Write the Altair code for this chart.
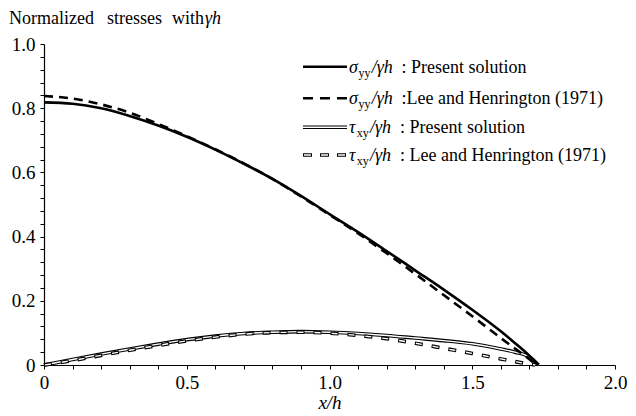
import altair as alt
import pandas as pd

# Normalised vertical stress sigma_yy / (gamma h) along the base
sig_x_present = [0.0, 0.1, 0.2, 0.3, 0.4, 0.5, 0.6, 0.7, 0.8, 0.9, 1.0, 1.1, 1.2,
                 1.3, 1.4, 1.5, 1.6, 1.65, 1.7, 1.732]
sig_y_present = [0.818, 0.814, 0.800, 0.776, 0.746, 0.711, 0.671, 0.627, 0.580, 0.527,
                 0.470, 0.414, 0.355, 0.295, 0.235, 0.172, 0.105, 0.068, 0.029, 0.0]

sig_x_lee = [0.0, 0.1, 0.2, 0.3, 0.4, 0.5, 0.6, 0.7, 0.8, 0.9, 1.0, 1.1, 1.2,
             1.3, 1.4, 1.5, 1.6, 1.65, 1.7, 1.725]
sig_y_lee = [0.838, 0.830, 0.812, 0.786, 0.751, 0.713, 0.672, 0.628, 0.580, 0.525,
             0.468, 0.410, 0.348, 0.284, 0.218, 0.152, 0.084, 0.051, 0.018, 0.0]

# Normalised shear stress tau_xy / (gamma h)
tau_x_present = [0.0, 0.1, 0.2, 0.3, 0.4, 0.5, 0.6, 0.7, 0.8, 0.9, 1.0, 1.1, 1.2,
                 1.3, 1.4, 1.5, 1.6, 1.65, 1.7, 1.732]
tau_y_present = [0.0, 0.017, 0.034, 0.050, 0.065, 0.079, 0.090, 0.098, 0.102, 0.104,
                 0.102, 0.098, 0.092, 0.084, 0.076, 0.066, 0.050, 0.040, 0.025, 0.0]

tau_x_lee = [0.0, 0.1, 0.2, 0.3, 0.4, 0.5, 0.6, 0.7, 0.8, 0.9, 1.0, 1.1, 1.2,
             1.3, 1.4, 1.5, 1.6, 1.66, 1.72]
tau_y_lee = [0.0, 0.014, 0.030, 0.046, 0.061, 0.075, 0.087, 0.096, 0.101, 0.102,
             0.099, 0.092, 0.082, 0.068, 0.052, 0.036, 0.019, 0.009, 0.0]

x_ticks = [round(i * 0.1, 2) for i in range(21)]
y_ticks = [round(i * 0.04, 2) for i in range(26)]

FONT = "Liberation Serif"
W, H = 571, 321


def series(xs, ys, name):
    return pd.DataFrame({"x": xs, "y": ys, "s": name})


df = pd.concat([
    series(sig_x_present, sig_y_present, "sig_p"),
    series(sig_x_lee, sig_y_lee, "sig_l"),
    series(tau_x_present, tau_y_present, "tau_p"),
    series(tau_x_lee, tau_y_lee, "tau_l"),
], ignore_index=True)

xscale = alt.Scale(domain=[0, 2], nice=False, zero=False)
yscale = alt.Scale(domain=[0, 1], nice=False, zero=False)

x_enc = alt.X(
    "x:Q", scale=xscale, title="x/h",
    axis=alt.Axis(
        values=x_ticks, grid=False, domainColor="black", tickColor="black",
        tickSize=4, domainWidth=1.2, tickWidth=1, labelFont=FONT, labelFontSize=19,
        labelColor="black", labelPadding=4, labelOverlap=False, labelFlush=False,
        labelExpr="datum.value == 0 ? '0' : (round(datum.value * 10) % 5 == 0 ? format(datum.value, '.1f') : '')",
        titleFont=FONT, titleFontSize=19, titleFontStyle="italic", titleFontWeight="normal",
        titleColor="black", titlePadding=1,
    ),
)
y_enc = alt.Y(
    "y:Q", scale=yscale, title=None,
    axis=alt.Axis(
        values=y_ticks, grid=False, domainColor="black", tickColor="black",
        tickSize=4, domainWidth=1.2, tickWidth=1, labelFont=FONT, labelFontSize=19,
        labelColor="black", labelPadding=5, labelOverlap=False, labelFlush=False,
        labelExpr="datum.value == 0 ? '0' : (round(datum.value * 100) % 20 == 0 ? format(datum.value, '.1f') : '')",
    ),
)

base = alt.Chart(df).encode(x=x_enc, y=y_enc)


def curve(name, color, width, dash=None, offset=None):
    kw = dict(color=color, strokeWidth=width, interpolate="monotone", strokeCap="butt")
    if dash:
        kw["strokeDash"] = dash
    if offset is not None:
        kw["strokeDashOffset"] = offset
    return base.transform_filter(alt.datum.s == name).mark_line(**kw)


layers = [
    curve("tau_p", "black", 3.6),
    curve("tau_p", "white", 1.4),
    curve("tau_l", "black", 3.6, [8, 9]),
    curve("tau_l", "white", 1.4, [6, 11], 16),
    curve("sig_p", "black", 2.6),
    curve("sig_l", "black", 2.6, [9, 6]),
]


def label(txt, px, py, size=18, style="normal"):
    return alt.Chart(pd.DataFrame({"t": [txt]})).mark_text(
        font=FONT, fontSize=size, fontStyle=style, align="left",
        baseline="alphabetic", color="black",
    ).encode(x=alt.value(px), y=alt.value(py), text="t:N")


# Chart heading, set word by word in plot-relative pixels
for txt, px, style in [("Normalized", -35, "normal"), ("stresses", 63, "normal"),
                       ("with", 128, "normal"), ("γh", 161, "italic")]:
    layers.append(label(txt, px, -20, 18, style))

# Legend
legend_rows = [
    ("σ", "yy", ": Present solution", 22.7, "solid"),
    ("σ", "yy", ":Lee and Henrington  (1971)", 54.3, "dashed"),
    ("τ", "xy", ": Present solution", 83.3, "double"),
    ("τ", "xy", ": Lee and Henrington  (1971)", 111.0, "double_dashed"),
]
lx0, lx1 = 259, 303


def sample(yv, color, width, dash=None, offset=None):
    kw = dict(color=color, strokeWidth=width, strokeCap="butt")
    if dash:
        kw["strokeDash"] = dash
    if offset is not None:
        kw["strokeDashOffset"] = offset
    return alt.Chart(pd.DataFrame({"a": [0]})).mark_rule(**kw).encode(
        x=alt.value(lx0), x2=alt.value(lx1), y=alt.value(yv)
    )


for sym, sub, rest, yv, style in legend_rows:
    if style == "solid":
        layers.append(sample(yv, "black", 2.6))
    elif style == "dashed":
        layers.append(sample(yv, "black", 2.6, [10, 7]))
    elif style == "double":
        layers.append(sample(yv, "black", 3.6))
        layers.append(sample(yv, "white", 1.4))
    else:
        layers.append(sample(yv, "black", 3.6, [9, 8]))
        layers.append(sample(yv, "white", 1.4, [7, 10], 16))

    sub_x = 314.5 if sym == "σ" else 312.7
    frac_x = 327.7 if sym == "σ" else 326.0
    rest_x = 357.5 if sym == "σ" else 356.0
    layers.append(label(sym, 305, yv + 6, 18, "italic"))
    layers.append(label(sub, sub_x, yv + 10, 12, "normal"))
    layers.append(label("/γh", frac_x, yv + 6, 18, "italic"))
    layers.append(label(rest, rest_x, yv + 6, 18, "normal"))

chart = alt.layer(*layers).properties(
    width=W, height=H,
    autosize=alt.AutoSizeParams(type="none"),
    padding={"left": 44, "top": 44, "right": 20, "bottom": 50},
    background="white",
).configure(font=FONT).configure_view(stroke=None)

chart.save("out.html", embed_options={"renderer": "svg", "actions": False})
